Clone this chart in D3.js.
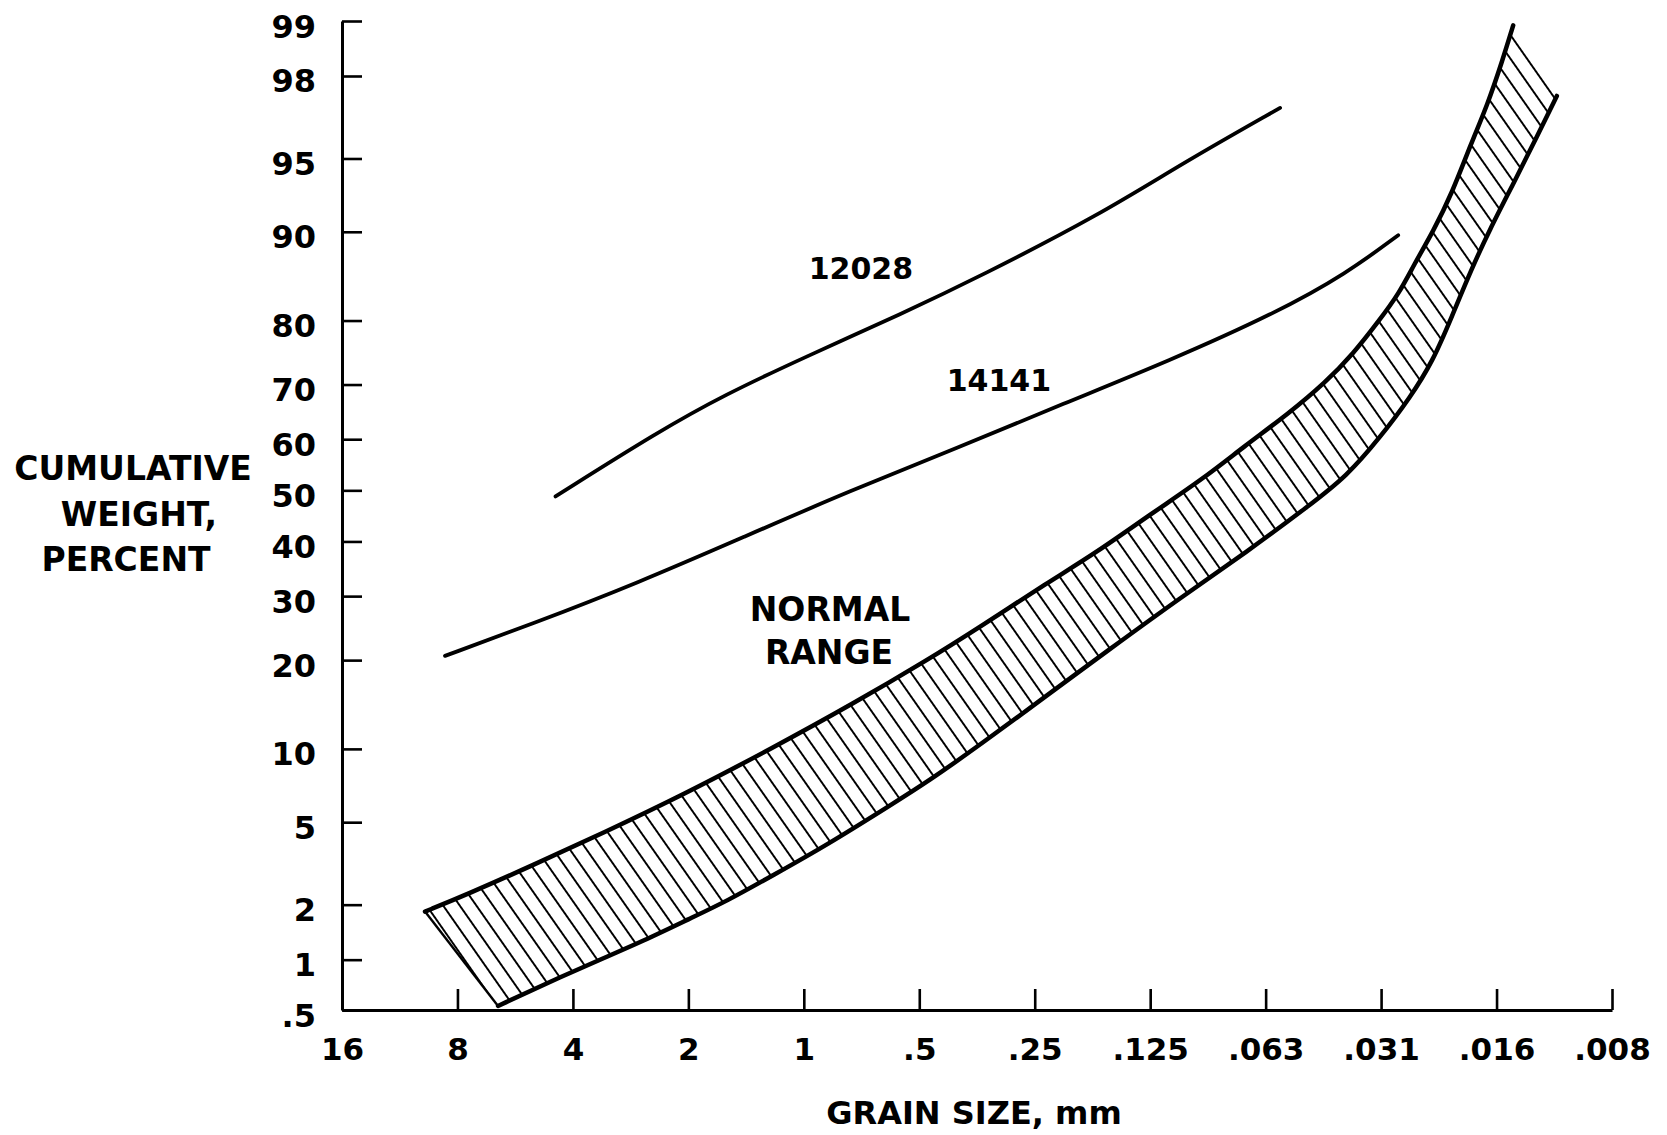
<!DOCTYPE html>
<html>
<head>
<meta charset="utf-8">
<script src="https://cdn.jsdelivr.net/npm/d3@7"></script>
<style>
  html, body { margin: 0; padding: 0; background: #fff; }
  svg { display: block; }
  text { font-family: "DejaVu Sans", sans-serif; font-weight: bold; fill: #000; }
</style>
</head>
<body>
<script>
// ---------- data ----------
const xTickValues = [16, 8, 4, 2, 1, 0.5, 0.25, 0.125, 0.0625, 0.03125, 0.015625, 0.0078125];
const xTickLabels = ["16", "8", "4", "2", "1", ".5", ".25", ".125", ".063", ".031", ".016", ".008"];
const yTickValues = [0.5, 1, 2, 5, 10, 20, 30, 40, 50, 60, 70, 80, 90, 95, 98, 99];
const yTickLabels = [".5", "1", "2", "5", "10", "20", "30", "40", "50", "60", "70", "80", "90", "95", "98", "99"];

// sample 12028 (grain size mm, cumulative weight %)
const s12028Size = [4.44, 2.40, 1.61, 0.989, 0.552, 0.349, 0.167, 0.103, 0.0573];
const s12028Pct  = [48.8, 61.4, 68.2, 74.6, 81.0, 85.5, 91.5, 94.75, 97.1];

// sample 14141
const s14141Size = [8.62, 5.15, 2.71, 1.43, 0.758, 0.398, 0.211, 0.112, 0.0587, 0.0384, 0.0282];
const s14141Pct  = [20.6, 25.3, 32.3, 40.9, 49.9, 58.3, 66.6, 73.9, 81.05, 85.9, 89.7];

// normal range band: upper (left) boundary
const normalUpperSize = [9.72, 7.55, 5.08, 3.34, 2.06, 1.203, 0.744, 0.477, 0.347, 0.232, 0.173, 0.1234, 0.0910, 0.0709, 0.0546, 0.0435, 0.0370, 0.0317, 0.0280, 0.0256, 0.0229, 0.0204, 0.0182, 0.0165, 0.0151, 0.01414];
const normalUpperPct  = [1.84, 2.26, 3.16, 4.47, 6.57, 10.10, 14.51, 19.99, 24.94, 32.33, 37.83, 45.54, 52.27, 58.7, 64.75, 70.45, 75.03, 79.92, 83.6, 86.9, 89.98, 92.97, 95.73, 97.2, 98.33, 98.94];

// normal range band: lower (right) boundary
const normalLowerSize = [6.27, 4.67, 3.40, 2.63, 1.98, 1.585, 1.203, 0.870, 0.585, 0.477, 0.347, 0.224, 0.163, 0.1044, 0.0700, 0.0479, 0.0384, 0.0315, 0.0262, 0.0229, 0.0204, 0.0182, 0.0163, 0.01414, 0.0123, 0.01088];
const normalLowerPct  = [0.53, 0.73, 1.00, 1.27, 1.69, 2.09, 2.82, 3.94, 6.03, 7.41, 10.36, 16.01, 21.16, 29.7, 38.0, 47.1, 52.8, 60.26, 67.8, 73.9, 80.64, 86.27, 90.16, 93.55, 95.97, 97.47];

const curveLabels = [
  { text: "12028", size: 0.71, pct: 85.3 },
  { text: "14141", size: 0.31, pct: 68.9 }
];

// ---------- helpers ----------
// inverse standard normal CDF (Acklam)
function probit(p) {
  const a = [-3.969683028665376e+01, 2.209460984245205e+02, -2.759285104469687e+02, 1.383577518672690e+02, -3.066479806614716e+01, 2.506628277459239e+00];
  const b = [-5.447609879822406e+01, 1.615858368580409e+02, -1.556989798598866e+02, 6.680131188771972e+01, -1.328068155288572e+01];
  const c = [-7.784894002430293e-03, -3.223964580411365e-01, -2.400758277161838e+00, -2.549732539343734e+00, 4.374664141464968e+00, 2.938163982698783e+00];
  const d = [7.784695709041462e-03, 3.224671290700398e-01, 2.445134137142996e+00, 3.754408661907416e+00];
  const pl = 0.02425, ph = 1 - pl;
  let q, r;
  if (p < pl) {
    q = Math.sqrt(-2 * Math.log(p));
    return (((((c[0]*q+c[1])*q+c[2])*q+c[3])*q+c[4])*q+c[5]) / ((((d[0]*q+d[1])*q+d[2])*q+d[3])*q+1);
  } else if (p <= ph) {
    q = p - 0.5; r = q * q;
    return (((((a[0]*r+a[1])*r+a[2])*r+a[3])*r+a[4])*r+a[5])*q / (((((b[0]*r+b[1])*r+b[2])*r+b[3])*r+b[4])*r+1);
  } else {
    q = Math.sqrt(-2 * Math.log(1 - p));
    return -(((((c[0]*q+c[1])*q+c[2])*q+c[3])*q+c[4])*q+c[5]) / ((((d[0]*q+d[1])*q+d[2])*q+d[3])*q+1);
  }
}

// ---------- layout ----------
const W = 1667, H = 1135;
const plotL = 342, plotR = 1612, plotT = 21, plotB = 1010;

const svg = d3.select("body").append("svg").attr("width", W).attr("height", H);
svg.append("rect").attr("width", W).attr("height", H).attr("fill", "#fff");

const x = d3.scaleLog().base(2).domain([16, 0.0078125]).range([plotL, plotR]);
const z = d3.scaleLinear().domain([probit(0.005), probit(0.99)]).range([plotB, plotT]);
const y = pct => z(probit(pct / 100));

// hatch pattern
const defs = svg.append("defs");
const pat = defs.append("pattern")
  .attr("id", "hatch").attr("patternUnits", "userSpaceOnUse")
  .attr("width", 13.6).attr("height", 10)
  .attr("patternTransform", "rotate(-35)");
pat.append("line").attr("x1", 6.8).attr("x2", 6.8).attr("y1", -2).attr("y2", 12)
  .attr("stroke", "#000").attr("stroke-width", 2);

// ---------- axes ----------
const yAxis = d3.axisLeft(z)
  .tickValues(yTickValues.map(v => probit(v / 100)))
  .tickFormat((d, i) => yTickLabels[i])
  .tickSizeInner(-20).tickSizeOuter(0).tickPadding(26);
const gy = svg.append("g").attr("transform", `translate(${plotL},0)`).call(yAxis);
gy.select(".domain").attr("stroke", "#000").attr("stroke-width", 3);
gy.selectAll(".tick line").attr("stroke", "#000").attr("stroke-width", 2.6);
gy.selectAll(".tick text")
  .attr("font-family", "DejaVu Sans").attr("font-weight", "bold")
  .attr("font-size", 32).attr("fill", "#000").attr("dy", "0.5em");

const xAxis = d3.axisBottom(x)
  .tickValues(xTickValues)
  .tickFormat((d, i) => xTickLabels[i])
  .tickSizeInner(-21).tickSizeOuter(0).tickPadding(28);
const gx = svg.append("g").attr("transform", `translate(0,${plotB})`).call(xAxis);
gx.select(".domain").attr("stroke", "#000").attr("stroke-width", 3);
gx.selectAll(".tick line").attr("stroke", "#000").attr("stroke-width", 2.6);
gx.selectAll(".tick text")
  .attr("font-family", "DejaVu Sans").attr("font-weight", "bold")
  .attr("font-size", 31).attr("fill", "#000");

// ---------- normal range band ----------
const upperPts = normalUpperSize.map((s, i) => [x(s), y(normalUpperPct[i])]);
const lowerPts = normalLowerSize.map((s, i) => [x(s), y(normalLowerPct[i])]);
const edge = d3.line().curve(d3.curveBasis);
const upPath = edge(upperPts);
const lowRevPath = edge(lowerPts.slice().reverse());
svg.append("path")
  .attr("d", upPath + "L" + lowRevPath.slice(1) + "Z")
  .attr("fill", "url(#hatch)").attr("stroke", "none");
svg.append("path").attr("d", upPath).attr("fill", "none")
  .attr("stroke", "#000").attr("stroke-width", 4.5).attr("stroke-linecap", "round");
svg.append("path").attr("d", edge(lowerPts)).attr("fill", "none")
  .attr("stroke", "#000").attr("stroke-width", 4.5).attr("stroke-linecap", "round");
svg.append("line")
  .attr("x1", upperPts[0][0]).attr("y1", upperPts[0][1])
  .attr("x2", lowerPts[0][0]).attr("y2", lowerPts[0][1])
  .attr("stroke", "#000").attr("stroke-width", 2.4);

// ---------- sample curves ----------
const curve = d3.line().curve(d3.curveBasis);
[[s12028Size, s12028Pct], [s14141Size, s14141Pct]].forEach(([sz, pc]) => {
  svg.append("path")
    .attr("d", curve(sz.map((s, i) => [x(s), y(pc[i])])))
    .attr("fill", "none").attr("stroke", "#000")
    .attr("stroke-width", 3.8).attr("stroke-linecap", "round");
});

curveLabels.forEach(l => {
  svg.append("text").attr("x", x(l.size)).attr("y", y(l.pct))
    .attr("text-anchor", "middle").attr("font-size", 30).text(l.text);
});

// ---------- titles ----------
svg.append("text").attr("x", 830).attr("y", 621).attr("text-anchor", "middle")
  .attr("font-size", 33).text("NORMAL");
svg.append("text").attr("x", 829).attr("y", 664).attr("text-anchor", "middle")
  .attr("font-size", 33).text("RANGE");

svg.append("text").attr("x", 133).attr("y", 480).attr("text-anchor", "middle")
  .attr("font-size", 33).text("CUMULATIVE");
svg.append("text").attr("x", 139).attr("y", 526).attr("text-anchor", "middle")
  .attr("font-size", 33).text("WEIGHT,");
svg.append("text").attr("x", 126).attr("y", 571).attr("text-anchor", "middle")
  .attr("font-size", 33).text("PERCENT");

svg.append("text").attr("x", 974).attr("y", 1124).attr("text-anchor", "middle")
  .attr("font-size", 32).text("GRAIN SIZE, mm");
</script>
</body>
</html>
